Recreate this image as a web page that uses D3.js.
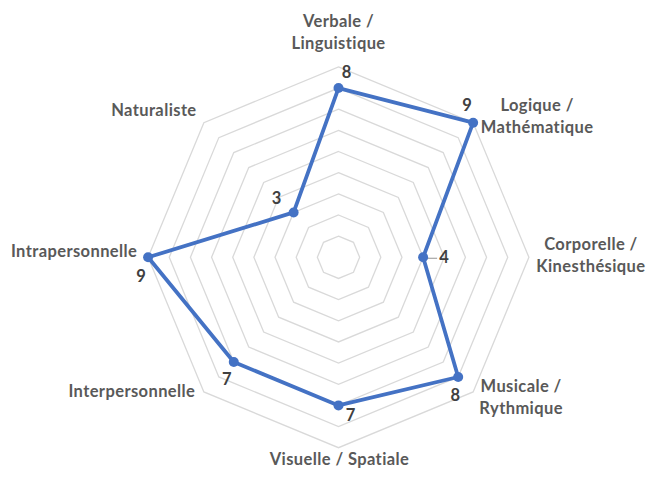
<!DOCTYPE html>
<html>
<head>
<meta charset="utf-8">
<script src="https://cdn.jsdelivr.net/npm/d3@7"></script>
<style>
  html, body { margin: 0; padding: 0; background: #ffffff; }
  svg { display: block; }
</style>
</head>
<body>
<svg id="chart" width="647" height="478"></svg>
<script>
// ---- data ----
const categories = [
  "Verbale / Linguistique",
  "Logique / Mathématique",
  "Corporelle / Kinesthésique",
  "Musicale / Rythmique",
  "Visuelle / Spatiale",
  "Interpersonnelle",
  "Intrapersonnelle",
  "Naturaliste"
];
const scores = [8, 9, 4, 8, 7, 7, 9, 3];
const gridLevels = [1, 2, 3, 4, 5, 6, 7, 8, 9];

// ---- layout (not data) ----
const W = 647, H = 478;
const cx = 338.5, cy = 257.3, R = 190.4;
// category label placement relative to the outer vertex: [dx, dy, wrap]
const labelPlace = [
  [0, -40, true],
  [64, -12, true],
  [62, -7, true],
  [48, 0, true],
  [1, 17, false],
  [-72, 5, false],
  [-74, 0, false],
  [-50, -7, false]
];
// data label offsets relative to the point: [dx, dy]
const valuePlace = [
  [8, -10], [-6, -12], [21, 6], [-3, 24], [12, 16], [-7, 23], [-7, 25], [-17, -8]
];

const svg = d3.select("#chart");
const n = categories.length;
const angle = d3.scaleLinear().domain([0, n]).range([0, 2 * Math.PI]);
const r = d3.scaleLinear().domain([0, 9]).range([0, R]);

function pt(i, v) {
  const a = angle(i);
  return [cx + r(v) * Math.sin(a), cy - r(v) * Math.cos(a)];
}

// grid rings
const ringLine = d3.line();
svg.append("g").selectAll("path")
  .data(gridLevels)
  .join("path")
  .attr("d", lv => ringLine(d3.range(n).map(i => pt(i, lv))) + "Z")
  .attr("fill", "none")
  .attr("stroke", "#d9d9d9")
  .attr("stroke-width", 1.3);

// category labels
const lab = svg.append("g")
  .attr("font-family", "Lato, 'Open Sans', sans-serif")
  .attr("font-weight", 700)
  .attr("font-size", 16.5)
  .attr("fill", "#595959")
  .attr("letter-spacing", 0.4);
categories.forEach((c, i) => {
  const [vx, vy] = pt(i, 9);
  const [dx, dy, wrap] = labelPlace[i];
  const parts = wrap ? [c.split(" / ")[0] + " /", c.split(" / ")[1]] : [c];
  const t = lab.append("text")
    .attr("x", vx + dx)
    .attr("y", vy + dy)
    .attr("text-anchor", "middle");
  parts.forEach((p, k) => {
    t.append("tspan")
      .attr("x", vx + dx)
      .attr("dy", k === 0 ? 0 : 22)
      .text(p);
  });
});

// series line
const pts = scores.map((v, i) => pt(i, v));
svg.append("path")
  .attr("d", d3.line()(pts) + "Z")
  .attr("fill", "none")
  .attr("stroke", "#4472C4")
  .attr("stroke-width", 3.8)
  .attr("stroke-linejoin", "round");

// leader for the "4" label
{
  const [px, py] = pt(2, scores[2]);
  svg.append("line")
    .attr("x1", px + 4).attr("y1", py + 1)
    .attr("x2", px + 14).attr("y2", py + 1)
    .attr("stroke", "#a6a6a6").attr("stroke-width", 1.2);
}

// markers
svg.append("g").selectAll("circle")
  .data(pts)
  .join("circle")
  .attr("cx", d => d[0])
  .attr("cy", d => d[1])
  .attr("r", 5)
  .attr("fill", "#4472C4");

// value labels
svg.append("g")
  .attr("font-family", "Lato, 'Open Sans', sans-serif")
  .attr("font-weight", 700)
  .attr("font-size", 16.5)
  .attr("fill", "#404040")
  .attr("text-anchor", "middle")
  .selectAll("text")
  .data(scores)
  .join("text")
  .attr("x", (v, i) => pts[i][0] + valuePlace[i][0])
  .attr("y", (v, i) => pts[i][1] + valuePlace[i][1])
  .text(v => v);
</script>
</body>
</html>
